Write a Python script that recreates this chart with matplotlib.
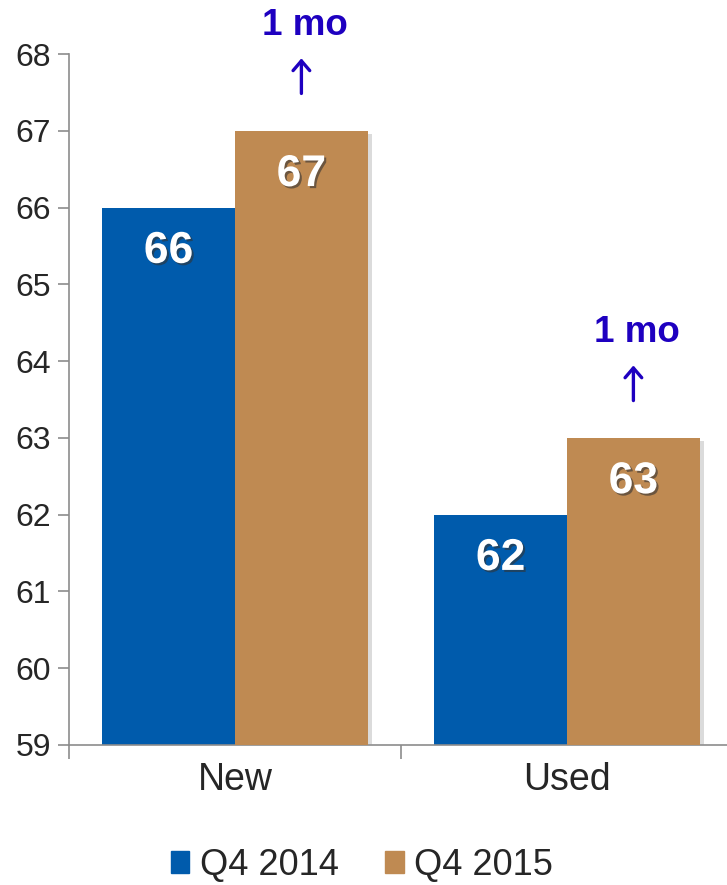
import matplotlib.pyplot as plt
import matplotlib.patheffects as pe
from matplotlib.patches import Patch

plt.rcParams['font.family'] = ['Liberation Sans', 'DejaVu Sans']

categories = ['New', 'Used']
series_names = ['Q4 2014', 'Q4 2015']
q4_2014 = [66, 62]
q4_2015 = [67, 63]
change_labels = ['1 mo', '1 mo']

blue = '#005BAC'
tan = '#BF8A52'
grey = '#8C8C8C'
note_color = '#1E00C0'

fig = plt.figure(figsize=(7.27, 8.85), dpi=100)
ax = fig.add_axes([69 / 727, 1 - 745 / 885, 664 / 727, 691 / 885])

x = list(range(len(categories)))
w = 0.4
shadow = [pe.SimplePatchShadow(offset=(3, -2), shadow_rgbFace='#999999', alpha=0.35),
          pe.Normal()]
b1 = ax.bar([i - w / 2 for i in x], [v - 59 for v in q4_2014], w, bottom=59,
            color=blue, path_effects=shadow, zorder=2)
b2 = ax.bar([i + w / 2 for i in x], [v - 59 for v in q4_2015], w, bottom=59,
            color=tan, path_effects=shadow, zorder=3)

txt_shadow = [pe.withSimplePatchShadow(offset=(1.5, -1.5), shadow_rgbFace='#333333', alpha=0.6)]
for i in x:
    ax.text(i - w / 2, q4_2014[i] - 0.57, str(q4_2014[i]), ha='center', va='center',
            color='white', fontsize=32, fontweight='bold', path_effects=txt_shadow, zorder=5)
    ax.text(i + w / 2, q4_2015[i] - 0.57, str(q4_2015[i]), ha='center', va='center',
            color='white', fontsize=32, fontweight='bold', path_effects=txt_shadow, zorder=5)
    # change annotation above the 2015 bar
    ax.annotate('', xy=(i + w / 2, q4_2015[i] + 0.98), xytext=(i + w / 2, q4_2015[i] + 0.45),
                arrowprops=dict(arrowstyle='->,head_length=0.7,head_width=0.6',
                                color=note_color, lw=2.4), annotation_clip=False)
    ax.text(i + w / 2 + 0.01, q4_2015[i] + 1.37, change_labels[i], ha='center', va='center',
            color=note_color, fontsize=26.5, fontweight='bold', clip_on=False)

ax.set_ylim(59, 68)
ax.set_xlim(-0.5, 1.5)
ax.set_yticks(range(59, 69))
ax.set_xticks(x)
ax.set_xticklabels(categories, fontsize=27, color='#262626')
ax.set_xticks([-0.5, 0.5, 1.5], minor=True)
ax.tick_params(axis='x', which='major', length=0, pad=12)
ax.tick_params(axis='x', which='minor', length=10, color=grey, width=1.2)
ax.tick_params(axis='y', length=8, color=grey, width=1.2, labelsize=23,
               labelcolor='#262626', pad=5)

for s in ['top', 'right']:
    ax.spines[s].set_visible(False)
for s in ['left', 'bottom']:
    ax.spines[s].set_color(grey)
    ax.spines[s].set_linewidth(1.2)

handles = [Patch(color=blue), Patch(color=tan)]
fig.legend(handles, series_names, loc='center', bbox_to_anchor=(362 / 727, 1 - 865 / 885),
           ncol=2, frameon=False, fontsize=26, handlelength=0.5, handleheight=0.55,
           handletextpad=0.3, columnspacing=1.3, labelcolor='#262626')

fig.savefig('out.png', dpi=100)
